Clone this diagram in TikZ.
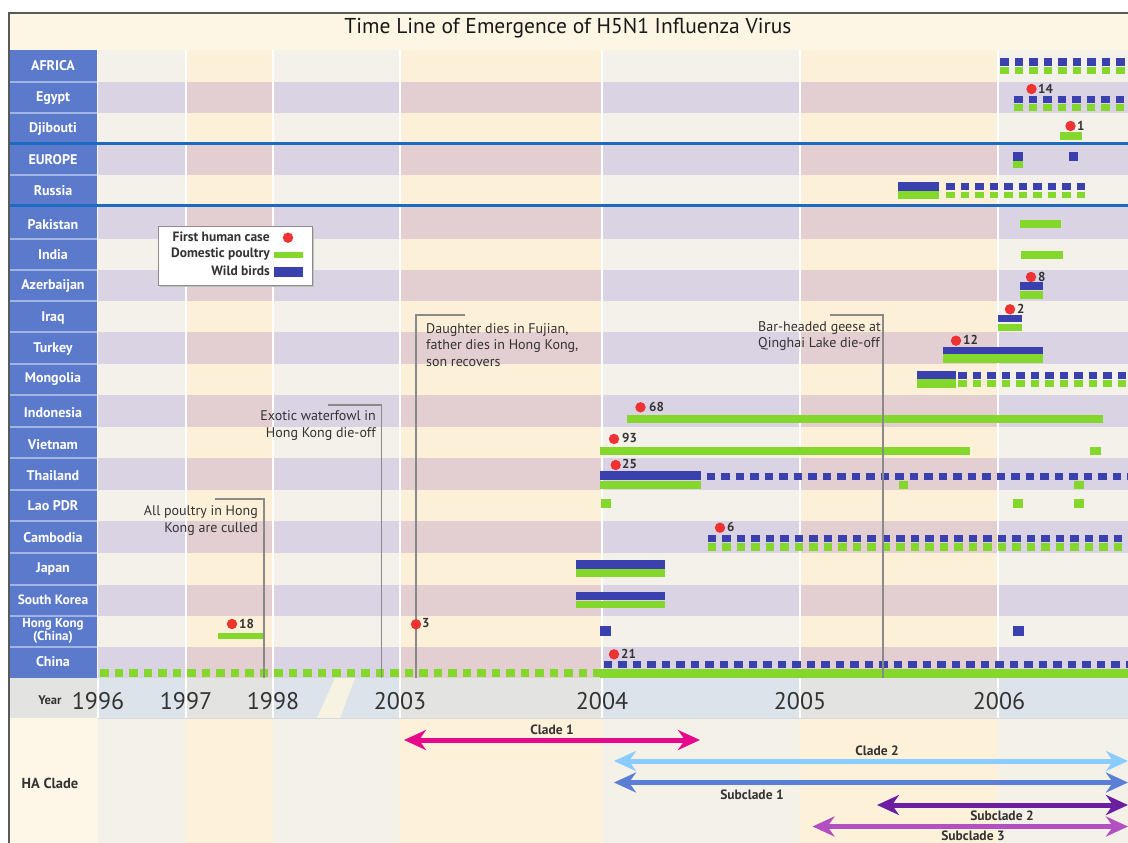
\documentclass[tikz,border=0pt]{standalone}
\usepackage{fontspec}
\setmainfont{PT Sans}
\usetikzlibrary{arrows.meta}
\definecolor{titlebg}{HTML}{FDF6E4}
\definecolor{colG}{HTML}{F3F1E9}
\definecolor{colY}{HTML}{FDF0D9}
\definecolor{stG}{HTML}{DAD3E3}
\definecolor{stY}{HTML}{E3CED2}
\definecolor{labblue}{HTML}{5B7ACB}
\definecolor{labsep}{HTML}{A3B4E2}
\definecolor{sepblue}{HTML}{1C6BC0}
\definecolor{barblue}{HTML}{3A40AE}
\definecolor{bargreen}{HTML}{84D82B}
\definecolor{dotred}{HTML}{EE3333}
\definecolor{yrG}{HTML}{E3E3E1}
\definecolor{yrB}{HTML}{DCE3EB}
\definecolor{botL}{HTML}{FEF6E6}
\definecolor{botG}{HTML}{F4F1E8}
\definecolor{botY}{HTML}{FEF1DA}
\definecolor{breakc}{HTML}{F7F3E3}
\definecolor{txtdark}{HTML}{333333}
\definecolor{leadc}{HTML}{8A8A8A}
\definecolor{cA}{HTML}{E8088C}
\definecolor{cB}{HTML}{8ACCFF}
\definecolor{sA}{HTML}{5B7FD6}
\definecolor{sB}{HTML}{6B1FA0}
\definecolor{sC}{HTML}{B250C2}
\tikzset{
  lab/.style={text=white, font=\bfseries\fontsize{14}{14}\selectfont, inner sep=0pt, align=center},
  num/.style={text=txtdark, font=\bfseries\fontsize{13}{13}\selectfont, inner sep=0pt, anchor=west},
  ann/.style={text=txtdark, font=\fontsize{14}{16.5}\selectfont, inner sep=0pt},
  yr/.style={text=txtdark, font=\fontsize{24}{26}\selectfont, inner sep=0pt},
  cladetxt/.style={text=txtdark, font=\bfseries\fontsize{13.5}{14}\selectfont, inner sep=0pt},
  legt/.style={text=txtdark, font=\bfseries\fontsize{13.5}{14}\selectfont, inner sep=0pt, anchor=east},
  leader/.style={draw=leadc, line width=1.1},
  bdash/.style={draw=barblue, dash pattern=on 8.5pt off 6pt},
  gdash/.style={draw=bargreen, dash pattern=on 8.5pt off 6pt},
  clade/.style={line width=5, arrows={Stealth[length=22pt,width=20pt,inset=7pt]-Stealth[length=22pt,width=20pt,inset=7pt]}},
  dot/.style={fill=dotred}
}
\begin{document}
\begin{tikzpicture}[x=1pt,y=-1pt]
\useasboundingbox (0,0) rectangle (1128,843);
\fill[white] (0,0) rectangle (1128,843);
% title band
\fill[titlebg] (9,13) rectangle (1128,50);
\node[text=black!90, font=\fontsize{21.5}{23}\selectfont, inner sep=0pt] (title) at (568,28) {Time Line of Emergence of H5N1 Influenza Virus};
% columns
\foreach \a/\b/\c in {98/186/colG,186/273/colY,273/400/colG,400/602/colY,602/800/colG,800/998/colY,998/1128/colG}
  {\fill[\c] (\a,50) rectangle (\b,678);}
% stripes
\foreach \ra/\rb in {82/113,144/175,206/239,270/301,332/364,395/427,458/490,521/553,585/616,647/678}{
  \foreach \a/\b/\c in {98/186/stG,186/273/stY,273/400/stG,400/602/stY,602/800/stG,800/998/stY,998/1128/stG}
    {\fill[\c] (\a,\ra) rectangle (\b,\rb);}
}
\foreach \x in {186,273,400,602,800,998} {\draw[white, line width=2.2] (\x,50) -- (\x,678);}
% year band
\fill[yrG] (9,678) rectangle (1128,718);
\foreach \a/\b in {98/186,273/400,602/800,998/1128} {\fill[yrB] (\a,678) rectangle (\b,718);}
\fill[breakc] (335,678) -- (355,678) -- (340,718) -- (317,718) -- cycle;
\foreach \x in {98,186,273,400,602,800,998} {\draw[white, line width=1.2] (\x,678) -- (\x,718);}
\draw[black!15, line width=0.8] (9,718) -- (1128,718);
% bottom section
\fill[botL] (9,718) rectangle (98,843);
\foreach \a/\b/\c in {98/186/botG,186/273/botY,273/400/botG,400/602/botY,602/800/botG,800/998/botY,998/1128/botG}
  {\fill[\c] (\a,718.5) rectangle (\b,843);}
% label column
\fill[labblue] (10,50) rectangle (97,678);
\foreach \y in {82,113,175,239,270,301,332,364,395,427,458,490,521,553,585,616,647}
  {\draw[labsep, line width=1.4] (10,\y) -- (97,\y);}
\draw[sepblue, line width=2.6] (10,143.5) -- (1128,143.5);
\draw[sepblue, line width=2.6] (10,205.5) -- (1128,205.5);
% labels
\node[lab] (lAfrica) at (53,66) {AFRICA};
\node[lab] (lEgypt) at (53,98) {Egypt};
\node[lab] (lDjib) at (53,128.5) {Djibouti};
\node[lab] (lEurope) at (53,160) {EUROPE};
\node[lab] (lRussia) at (53,190.5) {Russia};
\node[lab] (lPak) at (53,225) {Pakistan};
\node[lab] (lIndia) at (53,255) {India};
\node[lab] (lAzer) at (53,286) {Azerbaijan};
\node[lab] (lIraq) at (53,317.5) {Iraq};
\node[lab] (lTurkey) at (53,349) {Turkey};
\node[lab] (lMong) at (53,379.5) {Mongolia};
\node[lab] (lIndo) at (53,413) {Indonesia};
\node[lab] (lViet) at (53,445) {Vietnam};
\node[lab] (lThai) at (53,476) {Thailand};
\node[lab] (lLao) at (53,506) {Lao PDR};
\node[lab] (lCamb) at (53,538) {Cambodia};
\node[lab] (lJapan) at (53,569) {Japan};
\node[lab, font=\bfseries\fontsize{13.5}{14}\selectfont] (lKorea) at (53,600) {South Korea};
\node[lab, font=\bfseries\fontsize{13}{12.5}\selectfont] (lHK) at (53,631) {Hong Kong\\(China)};
\node[lab] (lChina) at (53,662) {China};
% ---- data ----
% AFRICA
\draw[bdash, line width=8] (1000,62) -- (1128,62);
\draw[gdash, line width=7] (1000,70.5) -- (1128,70.5);
% Egypt
\fill[dot] (1031.5,89) circle (5.2); \node[num] (nEgypt) at (1038,89) {14};
\draw[bdash, line width=7.5] (1014,99.5) -- (1128,99.5);
\draw[gdash, line width=7.5] (1014,107.5) -- (1128,107.5);
% Djibouti
\fill[dot] (1070.5,126) circle (5.2); \node[num] (nDjib) at (1077,126) {1};
\fill[bargreen] (1060,132) rectangle (1082,140);
% Europe
\fill[barblue] (1013,152) rectangle (1023,160.5);
\fill[bargreen] (1013,160.5) rectangle (1023,167.5);
\fill[barblue] (1069,152) rectangle (1078,160.5);
% Russia
\fill[barblue] (898,182) rectangle (939,191);
\fill[bargreen] (898,191) rectangle (939,199);
\draw[bdash, line width=7] (946,186.5) -- (1085,186.5);
\draw[gdash, line width=6.5] (946,195) -- (1085,195);
% Pakistan, India
\fill[bargreen] (1020,220) rectangle (1061,228);
\fill[bargreen] (1021,251) rectangle (1063,259);
% Azerbaijan
\fill[dot] (1031,277) circle (5.2); \node[num] (nAzer) at (1038,276.5) {8};
\fill[barblue] (1020,282) rectangle (1043,290);
\fill[bargreen] (1020,291) rectangle (1043,299);
% Iraq
\fill[dot] (1010,309.3) circle (5.2); \node[num] (nIraq) at (1017,308.5) {2};
\fill[barblue] (997.5,315) rectangle (1021.5,322);
\fill[bargreen] (997.5,324) rectangle (1021.5,331);
% Turkey
\fill[dot] (956,340.7) circle (5.2); \node[num] (nTurkey) at (963,340) {12};
\fill[barblue] (942.7,346.7) rectangle (1042.7,354.3);
\fill[bargreen] (942.7,354.3) rectangle (1042.7,362.7);
% Mongolia
\fill[barblue] (916.7,371) rectangle (956,379.3);
\fill[bargreen] (916.7,379.3) rectangle (956,388.3);
\draw[bdash, line width=6.5] (958,375.5) -- (1128,375.5);
\draw[gdash, line width=7] (958,383.5) -- (1128,383.5);
% Indonesia
\fill[dot] (640.5,407.3) circle (5.2); \node[num] (nIndo) at (649,406.5) {68};
\fill[bargreen] (626.5,415) rectangle (1103,423);
% Vietnam
\fill[dot] (614,439) circle (5.2); \node[num] (nViet) at (622,438) {93};
\fill[bargreen] (600,447) rectangle (970,455);
\fill[bargreen] (1090,447) rectangle (1101,455);
% Thailand
\fill[dot] (615.7,465) circle (5.2); \node[num] (nThai) at (622,464) {25};
\fill[barblue] (600,471) rectangle (700.6,479.5);
\fill[bargreen] (600,480.5) rectangle (700.6,488.5);
\draw[bdash, line width=7] (706.6,476) -- (1128,476);
\fill[bargreen] (899,480.5) rectangle (908,488.5);
\fill[bargreen] (1074,480.5) rectangle (1084,488.5);
% Lao
\fill[bargreen] (601,499) rectangle (611,508);
\fill[bargreen] (1013,499) rectangle (1023,508);
\fill[bargreen] (1074,499) rectangle (1084,508);
% Cambodia
\fill[dot] (720,527.7) circle (5.2); \node[num] (nCamb) at (727,527) {6};
\draw[bdash, line width=7] (707.6,538.5) -- (1128,538.5);
\draw[gdash, line width=7.5] (707.6,547) -- (1128,547);
% Japan
\fill[barblue] (575.6,560) rectangle (665.4,568.7);
\fill[bargreen] (575.6,569) rectangle (665.4,577);
% South Korea
\fill[barblue] (575.6,591.7) rectangle (665.4,600.2);
\fill[bargreen] (575.6,600.7) rectangle (665.4,608);
% Hong Kong
\fill[dot] (232,624) circle (5.2); \node[num] (nHK) at (239,623.5) {18};
\fill[bargreen] (218,632.5) rectangle (263,639);
\fill[barblue] (600,626) rectangle (611,635.5);
\fill[barblue] (1013,626) rectangle (1024,635.5);
% China
\draw[gdash, line width=7.5] (100,673) -- (600,673);
\fill[bargreen] (600,669) rectangle (1128,678);
\fill[dot] (614,654.3) circle (5.2); \node[num] (nChina) at (621,653.5) {21};
\draw[bdash, line width=7.5] (603.5,664.5) -- (1128,664.5);
% ---- annotations ----
\node[ann, align=right, anchor=east] (tCull) at (258,520.5) {All poultry in Hong\\Kong are culled};
\coordinate (cullA) at (215,499); \coordinate (cullB) at (264,499); \coordinate (cullC) at (264,678);
\draw[leader] (cullA) -- (cullB) -- (cullC);
\node[ann, align=right, anchor=east] (tExotic) at (376,425.5) {Exotic waterfowl in\\Hong Kong die-off};
\coordinate (exoA) at (328,405); \coordinate (exoB) at (381.7,405); \coordinate (exoC) at (381.7,678);
\draw[leader] (exoA) -- (exoB) -- (exoC);
\node[ann, align=left, anchor=west] (tDaughter) at (426,345) {Daughter dies in Fujian,\\father dies in Hong Kong,\\son recovers};
\coordinate (dauA) at (465,315); \coordinate (dauB) at (416,315); \coordinate (dauC) at (416,678);
\draw[leader] (dauA) -- (dauB) -- (dauC);
\node[ann, align=left, anchor=west] (tGeese) at (758,336) {Bar-headed geese at\\Qinghai Lake die-off};
\coordinate (geeA) at (830,315); \coordinate (geeB) at (883,315); \coordinate (geeC) at (883,678);
\draw[leader] (geeA) -- (geeB) -- (geeC);
\fill[dot] (416,624.3) circle (5.2); \node[num] (nHK2) at (422,623.5) {3};
% ---- legend ----
\fill[black!25] (160,228) rectangle (314,287);
\draw[black!45, fill=white, line width=0.8] (158,226) rectangle (312,285);
\node[legt] (legA) at (270,237) {First human case};
\node[legt] (legB) at (270,254) {Domestic poultry};
\node[legt] (legC) at (270,270.5) {Wild birds};
\fill[dot] (288,237.7) circle (5.2);
\fill[bargreen] (274,251.5) rectangle (303,258);
\fill[barblue] (274,267) rectangle (303,277);
% ---- years ----
\node[text=txtdark, font=\bfseries\fontsize{12.5}{13}\selectfont, inner sep=0pt] (yearlab) at (50,700) {Year};
\node[yr] (y1996) at (98,701) {1996};
\node[yr] (y1997) at (186,701) {1997};
\node[yr] (y1998) at (273,701) {1998};
\node[yr] (y2003) at (400,701) {2003};
\node[yr] (y2004) at (602,701) {2004};
\node[yr] (y2005) at (800,701) {2005};
\node[yr] (y2006) at (999,701) {2006};
% ---- clades ----
\node[text=txtdark, font=\bfseries\fontsize{14.5}{15}\selectfont, inner sep=0pt] (haclade) at (50,783) {HA Clade};
\coordinate (c1a) at (404,740); \coordinate (c1b) at (700,740);
\draw[clade, cA] (c1a) -- (c1b);
\node[cladetxt] (tc1) at (552,730) {Clade 1};
\coordinate (c2a) at (614,761); \coordinate (c2b) at (1128,761);
\draw[clade, cB] (c2a) -- (c2b);
\node[cladetxt] (tc2) at (877,751) {Clade 2};
\coordinate (s1a) at (614,782.5); \coordinate (s1b) at (1128,782.5);
\draw[clade, sA] (s1a) -- (s1b);
\node[cladetxt] (ts1) at (752,795) {Subclade 1};
\coordinate (s2a) at (877,805); \coordinate (s2b) at (1128,805);
\draw[clade, sB] (s2a) -- (s2b);
\node[cladetxt] (ts2) at (1002,815.5) {Subclade 2};
\coordinate (s3a) at (812.5,826.5); \coordinate (s3b) at (1128,826.5);
\draw[clade, sC] (s3a) -- (s3b);
\node[cladetxt] (ts3) at (973,836) {Subclade 3};
% frame
\draw[black!65, line width=1.3] (9,843) -- (9,13) -- (1128,13);
\end{tikzpicture}
\end{document}
